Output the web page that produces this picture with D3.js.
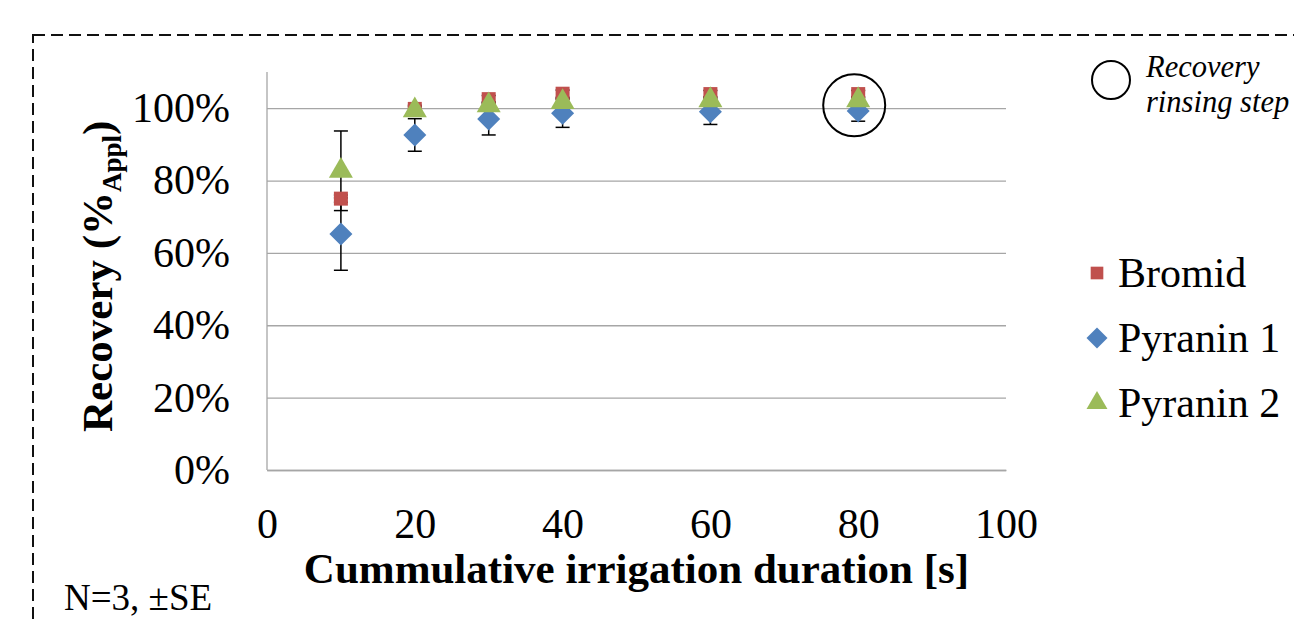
<!DOCTYPE html>
<html>
<head>
<meta charset="utf-8">
<script src="https://cdn.jsdelivr.net/npm/d3@7"></script>
<style>
    body { margin: 0; background: #fff; }
    svg { display: block; font-family: 'Liberation Serif', 'Times New Roman', serif; }
</style>
</head>
<body>
<div id="chart"></div>
<script>
// Data
const durations = [10, 20, 30, 40, 60, 80];
const bromid = [75, 99.8, 102.5, 104, 103.9, 103.9];
const bromidSE = [1, 1, 1, 1, 1, 1];
const pyranin1 = [65.2, 92.6, 97, 98.6, 99, 99.2];
const pyranin1SE = [10, 4.5, 4.4, 3.9, 3.5, 2.8];
const pyranin2 = [82.7, 99.4, 100.8, 101.7, 102.2, 102.2];
const pyranin2SE = [11, 1, 1, 1, 1, 1];
const seriesNames = ['Bromid', 'Pyranin 1', 'Pyranin 2'];
const xTicks = [0, 20, 40, 60, 80, 100];
const yTicks = [0, 20, 40, 60, 80, 100];

const colors = ['#C0504D', '#4F81BD', '#9BBB59'];

// Excel style diamond (a square turned by 45 degrees)
const symbolRhomb = {
    draw(context, size) {
        const r = Math.sqrt(size / 2);
        context.moveTo(0, -r);
        context.lineTo(r, 0);
        context.lineTo(0, r);
        context.lineTo(-r, 0);
        context.closePath();
    }
};
const shapes = [d3.symbolSquare, symbolRhomb, d3.symbolTriangle];

document.addEventListener('DOMContentLoaded', () => {
    drawChart();
});

function buildSeries() {
    const values = [bromid, pyranin1, pyranin2];
    const errors = [bromidSE, pyranin1SE, pyranin2SE];
    return seriesNames.map((name, i) => ({
        name,
        color: colors[i],
        shape: shapes[i],
        points: durations.map((x, j) => ({ x, y: values[i][j], se: errors[i][j] }))
    }));
}

function drawChart() {
    const totalWidth = 1294;
    const totalHeight = 622;
    const margin = { top: 72, left: 267 };
    const width = 1006 - 267;
    const height = 470 - 72;

    const svg = d3.select('#chart')
        .append('svg')
        .attr('width', totalWidth)
        .attr('height', totalHeight);

    // Dashed frame around the figure (runs off the right and bottom edges)
    svg.append('rect')
        .attr('x', 33)
        .attr('y', 35)
        .attr('width', 1400)
        .attr('height', 800)
        .attr('fill', 'none')
        .attr('stroke', '#111')
        .attr('stroke-width', 2)
        .attr('stroke-dasharray', '12,6');

    const g = svg.append('g')
        .attr('transform', `translate(${margin.left}, ${margin.top})`);

    const x = d3.scaleLinear().domain([0, 100]).range([0, width]);
    const y = d3.scaleLinear().domain([0, 110]).range([height, 0]);

    // Y axis with gridlines
    const yAxis = g.append('g')
        .call(d3.axisLeft(y)
            .tickValues(yTicks)
            .tickSize(-width)
            .tickPadding(37)
            .tickFormat(d => d + '%'));
    yAxis.select('.domain').remove();
    yAxis.selectAll('line').attr('stroke', '#a6a6a6').attr('stroke-width', 1.3);
    yAxis.selectAll('text')
        .attr('fill', '#000')
        .style('font-size', '42px')
        .style('font-family', 'Liberation Serif');

    g.append('line')
        .attr('x1', 0).attr('x2', 0)
        .attr('y1', 0).attr('y2', height)
        .attr('stroke', '#a6a6a6')
        .attr('stroke-width', 1.3);

    // X axis
    const xAxis = g.append('g')
        .attr('transform', `translate(0, ${height})`)
        .call(d3.axisBottom(x)
            .tickValues(xTicks)
            .tickSize(0)
            .tickPadding(38));
    xAxis.select('.domain').attr('stroke', '#a6a6a6').attr('stroke-width', 1.3);
    xAxis.selectAll('text')
        .attr('fill', '#000')
        .style('font-size', '42px')
        .style('font-family', 'Liberation Serif');

    const series = buildSeries();

    // Error bars under the markers
    series.forEach(s => {
        const bars = g.append('g').attr('stroke', '#000').attr('stroke-width', 1.5);
        s.points.forEach(p => {
            const cx = x(p.x);
            const top = y(p.y + p.se);
            const bottom = y(p.y - p.se);
            bars.append('line').attr('x1', cx).attr('x2', cx).attr('y1', top).attr('y2', bottom);
            bars.append('line').attr('x1', cx - 7).attr('x2', cx + 7).attr('y1', top).attr('y2', top);
            bars.append('line').attr('x1', cx - 7).attr('x2', cx + 7).attr('y1', bottom).attr('y2', bottom);
        });
    });

    // Markers
    const markerSize = [196, 265, 250];
    series.forEach((s, i) => {
        g.append('g')
            .selectAll('path')
            .data(s.points)
            .enter()
            .append('path')
            .attr('d', d3.symbol().type(s.shape).size(markerSize[i]))
            .attr('transform', d => `translate(${x(d.x)}, ${y(d.y)})`)
            .attr('fill', s.color);
    });

    // Circle marking the rinsing step
    g.append('circle')
        .attr('cx', x(80) - 4)
        .attr('cy', y(100.8))
        .attr('r', 31)
        .attr('fill', 'none')
        .attr('stroke', '#000')
        .attr('stroke-width', 2);

    // Axis titles
    svg.append('text')
        .attr('x', margin.left + width / 2)
        .attr('y', 583)
        .attr('text-anchor', 'middle')
        .style('font-size', '43px')
        .style('font-weight', 'bold')
        .text('Cummulative irrigation duration [s]');

    const yTitle = svg.append('text')
        .attr('transform', 'translate(112, 432) rotate(-90)')
        .style('font-size', '43px')
        .style('font-weight', 'bold');
    yTitle.append('tspan').text('Recovery (%');
    yTitle.append('tspan').attr('dy', 9).style('font-size', '27px').text('Appl');
    yTitle.append('tspan').attr('dy', -9).text(')');

    // Legend
    const legendY = [273, 338, 403];
    const legendSize = [160, 220, 190];
    const legend = svg.append('g');
    series.forEach((s, i) => {
        legend.append('path')
            .attr('d', d3.symbol().type(s.shape).size(legendSize[i]))
            .attr('transform', `translate(1097, ${legendY[i]})`)
            .attr('fill', s.color);
        legend.append('text')
            .attr('x', 1118)
            .attr('y', legendY[i] + 14)
            .style('font-size', '42px')
            .text(s.name);
    });

    legend.append('circle')
        .attr('cx', 1111)
        .attr('cy', 80)
        .attr('r', 19)
        .attr('fill', 'none')
        .attr('stroke', '#000')
        .attr('stroke-width', 2);
    legend.append('text')
        .attr('x', 1146)
        .attr('y', 77)
        .style('font-size', '30.5px')
        .style('font-style', 'italic')
        .text('Recovery');
    legend.append('text')
        .attr('x', 1146)
        .attr('y', 112)
        .style('font-size', '30.5px')
        .style('font-style', 'italic')
        .text('rinsing step');

    // Footnote
    svg.append('text')
        .attr('x', 64)
        .attr('y', 610)
        .style('font-size', '37px')
        .text('N=3, \u00B1SE');
}
</script>
</body>
</html>
